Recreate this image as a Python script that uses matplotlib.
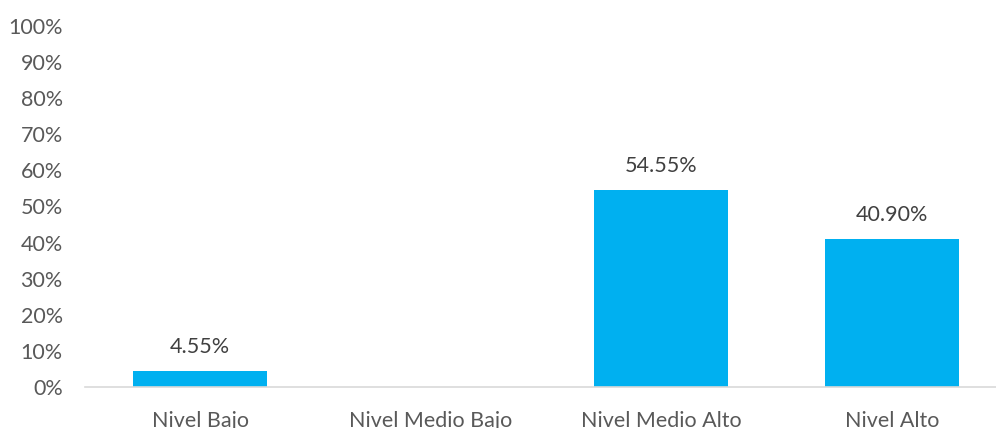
import matplotlib
matplotlib.use("Agg")
import matplotlib.pyplot as plt
from matplotlib.ticker import FuncFormatter

categories = ["Nivel Bajo", "Nivel Medio Bajo", "Nivel Medio Alto", "Nivel Alto"]
values = [4.55, 0.0, 54.55, 40.90]
labels = ["4.55%", "", "54.55%", "40.90%"]
yticks = list(range(0, 101, 10))

plt.rcParams['font.family'] = ['Lato', 'DejaVu Sans']
text_color = "#595959"
fs = 15.5

fig = plt.figure(figsize=(9.96, 4.28), dpi=100)
W, H = 996, 428
left, right = 85, 1007
bottom, top = 387, 26
ax = fig.add_axes([left / W, (H - bottom) / H, (right - left) / W, (bottom - top) / H])

x = list(range(len(categories)))
bars = ax.bar(x, values, width=0.58, color="#00B0F0", zorder=2)
for xi, v, lab in zip(x, values, labels):
    if lab:
        ax.annotate(lab, (xi, v), xytext=(0, 10), textcoords="offset points",
                    ha="center", va="bottom", fontsize=fs, color="#404040")

ax.set_xlim(-0.5, 3.5)
ax.set_ylim(0, 100)
ax.set_yticks(yticks)
ax.yaxis.set_major_formatter(FuncFormatter(lambda v, p: f"{int(v)}%"))
ax.set_xticks(x)
ax.set_xticklabels(categories)
ax.tick_params(axis="both", length=0, labelsize=fs, colors=text_color)
ax.tick_params(axis="y", pad=16)
ax.tick_params(axis="x", pad=17.5)
for s in ["top", "right", "left"]:
    ax.spines[s].set_visible(False)
ax.spines["bottom"].set_color("#D9D9D9")
ax.spines["bottom"].set_linewidth(1.2)

fig.savefig("out.png", dpi=100)
